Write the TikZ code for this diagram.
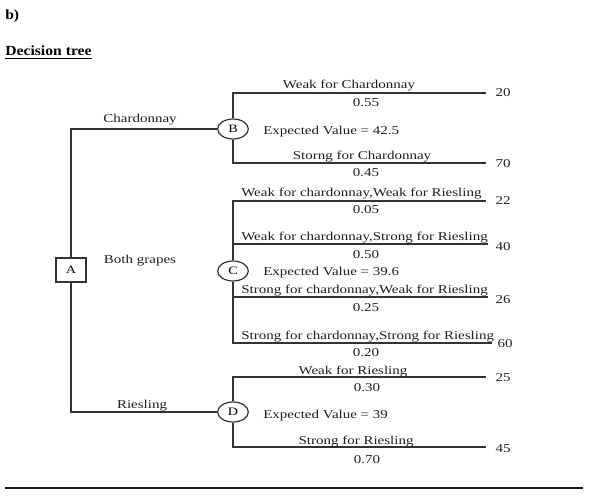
\documentclass[tikz,border=0pt]{standalone}
\usepackage{fontspec}
\setmainfont[FakeStretch=1.25]{Liberation Serif}
\newfontfamily\hdfont[FakeStretch=1.12]{Liberation Serif}
\usetikzlibrary{shapes.geometric}
\begin{document}
\begin{tikzpicture}[x=0.75pt,y=-0.75pt,
  lbl/.style={inner sep=0pt,anchor=base,font=\fontsize{9pt}{10pt}\selectfont,text=black!88},
  lbll/.style={lbl,anchor=base west},
  hd/.style={inner sep=0pt,anchor=base west,font=\hdfont\bfseries\fontsize{10.5pt}{12pt}\selectfont},
  chance/.style={ellipse,draw=black!80,line width=0.9pt,fill=white,minimum width=23pt,minimum height=15pt,inner sep=0pt,font=\fontsize{8.5pt}{10pt}\selectfont},
  decision/.style={rectangle,draw=black!80,line width=0.9pt,fill=white,minimum width=22.5pt,minimum height=18pt,inner sep=0pt,font=\fontsize{8.5pt}{10pt}\selectfont},
  branch/.style={draw=black!80,line width=0.9pt}]
\useasboundingbox (0,0) rectangle (592,502);

% headers
\node[hd] (hb) at (5,20) {b)};
\node[hd] (ht) at (5,56) {\underline{Decision tree}};

% nodes
\node[decision] (A) at (71,270) {A};
\node[chance] (B) at (233,129) {B};
\node[chance] (C) at (233,271) {C};
\node[chance] (D) at (233,412) {D};

% free ends of branches
\coordinate (b1) at (486,93);
\coordinate (b2) at (486,163);
\coordinate (c1) at (486,201);
\coordinate (c2) at (488,244);
\coordinate (c3) at (488,297);
\coordinate (c4) at (492,343);
\coordinate (d1) at (486,377);
\coordinate (d2) at (486,447);

% connectors
\draw[branch] (A.north) |- (B.west);
\draw[branch] (A.south) |- (D.west);
\draw[branch] (B.north) |- (b1);
\draw[branch] (B.south) |- (b2);
\draw[branch] (C.north) |- (c1);
\draw[branch] (C.north) |- (c2);
\draw[branch] (C.south) |- (c3);
\draw[branch] (C.south) |- (c4);
\draw[branch] (D.north) |- (d1);
\draw[branch] (D.south) |- (d2);

% decision labels
\node[lbl] (lch) at (140,123) {Chardonnay};
\node[lbl] (lbg) at (140,263) {Both grapes};
\node[lbl] (lri) at (142,408) {Riesling};

% B branch
\node[lbl] (tb1) at (349,89) {Weak for Chardonnay};
\node[lbl] (pb1) at (366,107) {0.55};
\node[lbll] (eb) at (263,135) {Expected Value = 42.5};
\node[lbl] (tb2) at (362,160) {Storng for Chardonnay};
\node[lbl] (pb2) at (366,177) {0.45};
\node[lbl] (vb1) at (503,97) {20};
\node[lbl] (vb2) at (503,168) {70};

% C branch
\node[lbll] (tc1) at (241,197) {Weak for chardonnay,Weak for Riesling};
\node[lbl] (pc1) at (366,214) {0.05};
\node[lbll] (tc2) at (241,241) {Weak for chardonnay,Strong for Riesling};
\node[lbl] (pc2) at (366,258) {0.50};
\node[lbll] (ec) at (263,275) {Expected Value = 39.6};
\node[lbll] (tc3) at (241,293) {Strong for chardonnay,Weak for Riesling};
\node[lbl] (pc3) at (366,311) {0.25};
\node[lbll] (tc4) at (241,339) {Strong for chardonnay,Strong for Riesling};
\node[lbl] (pc4) at (366,356) {0.20};
\node[lbl] (vc1) at (503,205) {22};
\node[lbl] (vc2) at (503,250) {40};
\node[lbl] (vc3) at (503,303) {26};
\node[lbl] (vc4) at (505,347) {60};

% D branch
\node[lbl] (td1) at (353,374) {Weak for Riesling};
\node[lbl] (pd1) at (367,391) {0.30};
\node[lbll] (ed) at (263,418) {Expected Value = 39};
\node[lbl] (td2) at (356,444) {Strong for Riesling};
\node[lbl] (pd2) at (367,463) {0.70};
\node[lbl] (vd1) at (503,381) {25};
\node[lbl] (vd2) at (503,452) {45};

% bottom rule
\coordinate (r1) at (5,488);
\coordinate (r2) at (583,488);
\draw[line width=1.1pt,black!90] (r1) -- (r2);
\end{tikzpicture}
\end{document}
